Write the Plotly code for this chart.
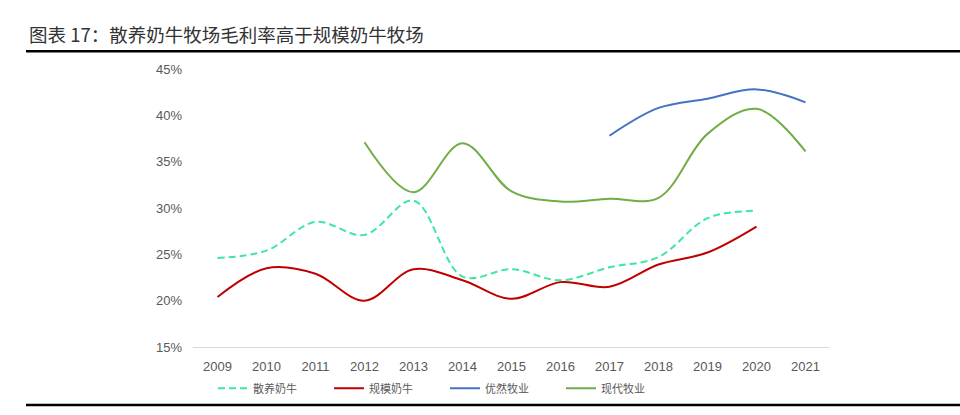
import plotly.graph_objects as go

years = [2009, 2010, 2011, 2012, 2013, 2014, 2015, 2016, 2017, 2018, 2019, 2020, 2021]
sanyang = [24.6, 25.4, 28.5, 27.1, 30.8, 22.6, 23.4, 22.2, 23.6, 24.7, 28.9, 29.7, None]
guimo = [20.4, 23.5, 22.9, 20.0, 23.4, 22.2, 20.2, 22.0, 21.5, 23.9, 25.2, 28.0, None]
youran = [None, None, None, None, None, None, None, None, 37.8, 40.8, 41.8, 42.8, 41.4]
xiandai = [None, None, None, 37.1, 31.7, 37.0, 31.8, 30.7, 31.0, 31.1, 38.0, 40.7, 36.1]
ytick_vals = [15, 20, 25, 30, 35, 40, 45]
ytick_text = [f"{v}%" for v in ytick_vals]

series = [
    ("散养奶牛", sanyang, "#3DE6A2", "7px,4px"),
    ("规模奶牛", guimo, "#C00000", "solid"),
    ("优然牧业", youran, "#4472C4", "solid"),
    ("现代牧业", xiandai, "#70AD47", "solid"),
]

fig = go.Figure()
for name, vals, color, dash in series:
    fig.add_trace(go.Scatter(
        x=years, y=vals, name=name, mode="lines",
        line=dict(color=color, width=2, dash=dash, shape="spline", smoothing=1.0),
        connectgaps=False,
    ))

W, H = 960, 415
PL, PR, PT, PB = 193, 830, 69, 352   # plot area in page pixels
L, R, T, B = PL, W - PR, PT, H - PB
pw, ph = PR - PL, PB - PT

def px_x(px):
    return (px - PL) / pw

def px_y(py):
    return (PB - py) / ph

fig.update_layout(
    width=W, height=H,
    margin=dict(l=L, r=R, t=T, b=B, pad=0),
    paper_bgcolor="white", plot_bgcolor="white",
    font=dict(family="Liberation Sans, Arial, sans-serif", color="#595959"),
    showlegend=True,
    legend=dict(
        orientation="h", x=px_x(213), xanchor="left", y=px_y(394), yanchor="middle",
        font=dict(size=11, family="Noto Sans CJK SC, sans-serif", color="#595959"),
        entrywidth=71, entrywidthmode="pixels", bgcolor="rgba(0,0,0,0)",
        itemwidth=30,
    ),
    xaxis=dict(
        range=[2008.5, 2021.5], tickmode="array", tickvals=years,
        ticktext=[str(y) for y in years], showgrid=False, zeroline=False,
        showline=True, linecolor="#D9D9D9", linewidth=1,
        tickfont=dict(size=13, color="#595959"), ticks="", ticklabelstandoff=7,
    ),
    yaxis=dict(
        range=[15, 45], tickmode="array", tickvals=ytick_vals, ticktext=ytick_text,
        showgrid=False, zeroline=False, showline=False,
        tickfont=dict(size=13, color="#595959"), ticks="", ticklabelstandoff=10,
    ),
    shapes=[
        dict(type="line", xref="paper", yref="paper", x0=px_x(26), x1=px_x(962),
             y0=px_y(51), y1=px_y(51), line=dict(color="#000000", width=2.5)),
        dict(type="line", xref="paper", yref="paper", x0=px_x(26), x1=px_x(962),
             y0=px_y(411), y1=px_y(411), line=dict(color="#000000", width=2.5)),
    ],
    annotations=[
        dict(text="图表 17：散养奶牛牧场毛利率高于规模奶牛牧场", xref="paper", yref="paper",
             x=px_x(27), y=px_y(33), xanchor="left", yanchor="middle", showarrow=False,
             font=dict(size=18.5, family="Noto Sans CJK SC, sans-serif", color="#333333")),
    ],
)

fig.write_html(
    "out.html",
    config={"displayModeBar": False},
    post_script="document.body.style.margin='0';document.body.style.overflow='hidden';",
)
